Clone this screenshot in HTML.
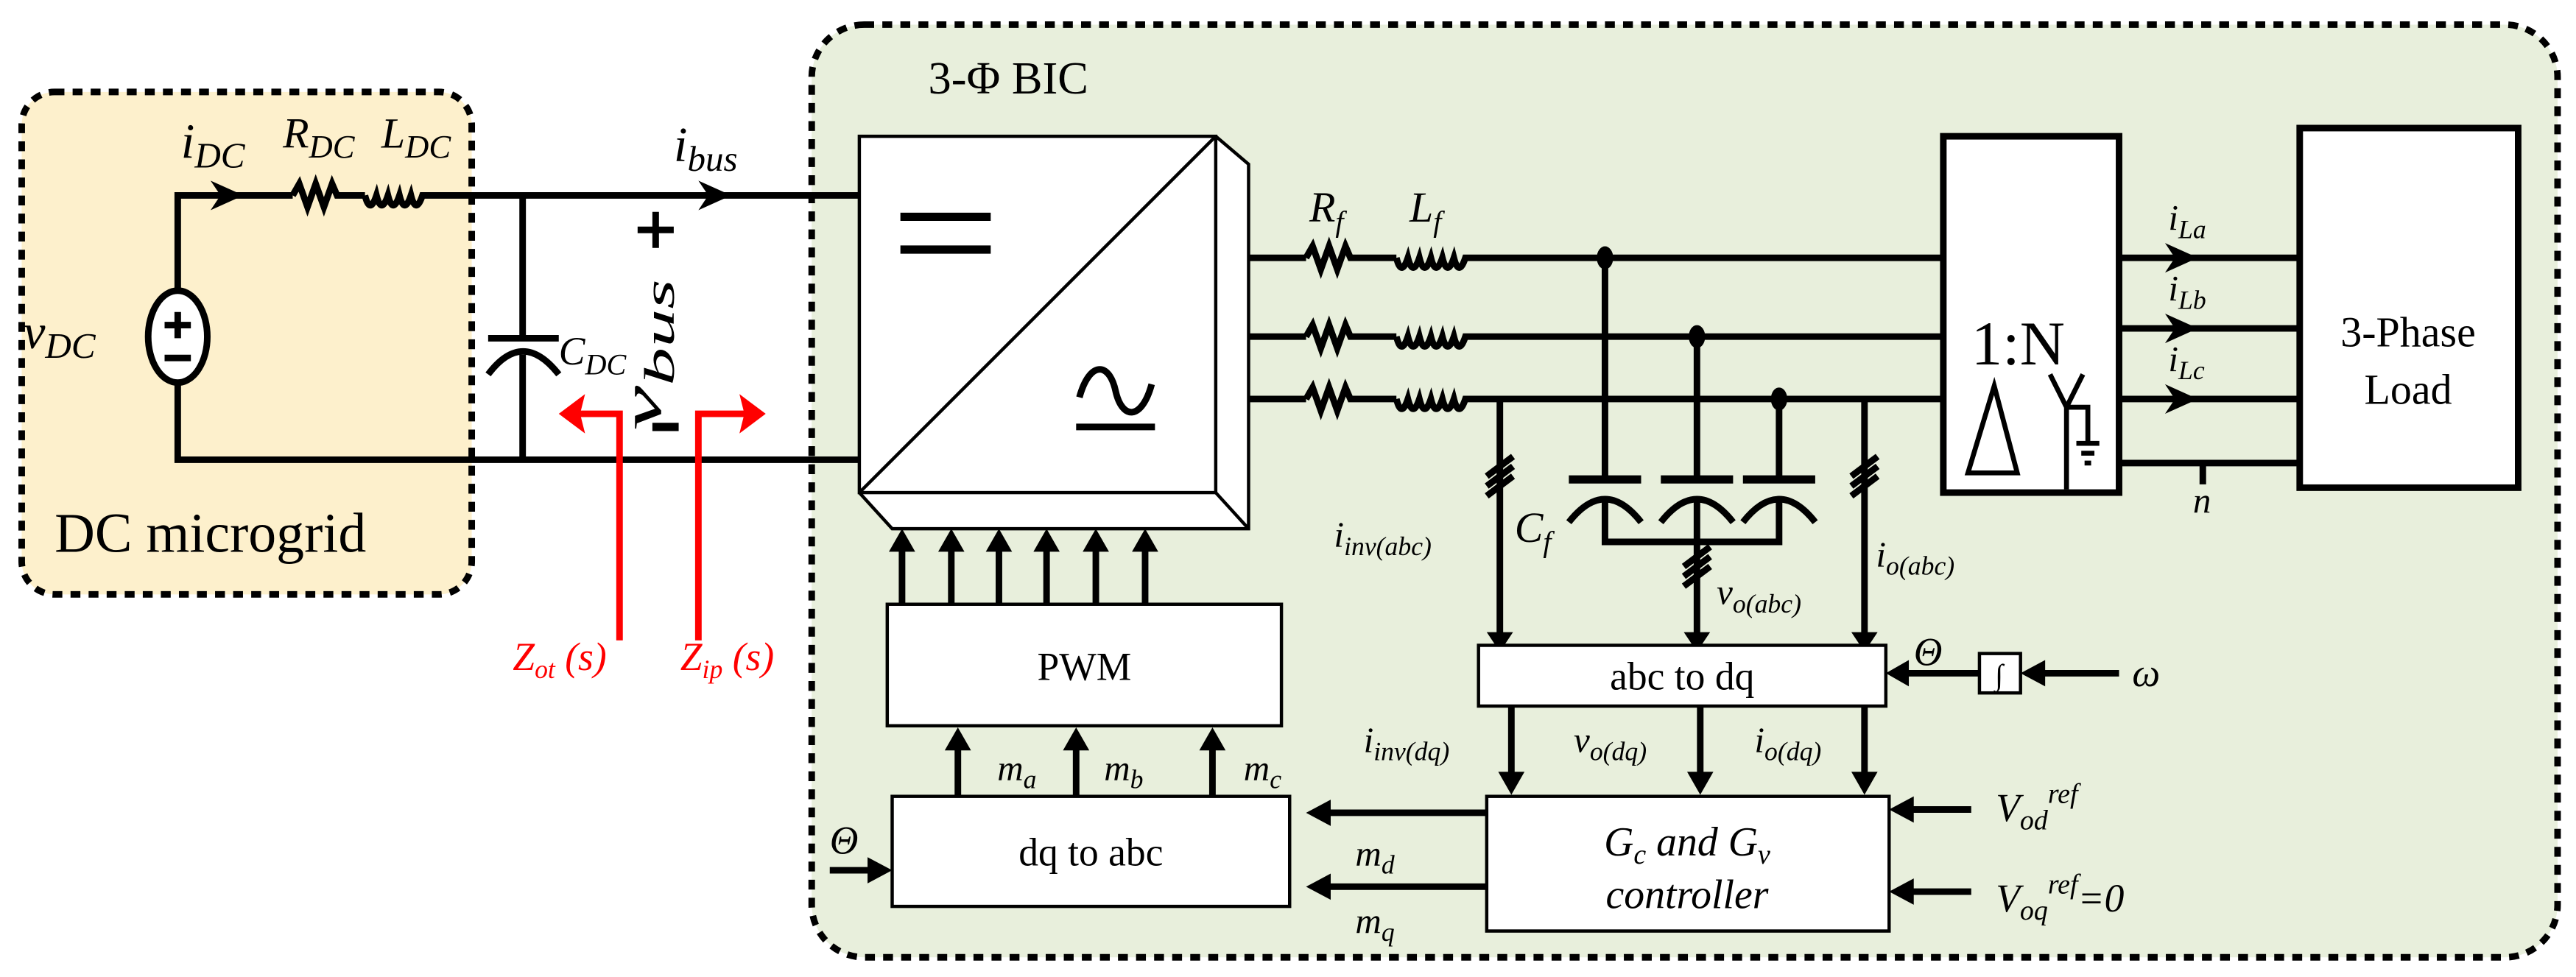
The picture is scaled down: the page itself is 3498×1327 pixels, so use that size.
<!DOCTYPE html>
<html><head><meta charset="utf-8"><style>
html,body{margin:0;padding:0;background:#fff}
svg{display:block}
svg text{font-family:"Liberation Serif","DejaVu Serif","Times New Roman",serif;fill:#000}
.i{font-style:italic}
</style></head><body>
<svg width="3498" height="1327" viewBox="0 0 1568 595" xmlns="http://www.w3.org/2000/svg">
<!-- group boxes -->
<rect x="13" y="56" width="274" height="306" rx="20" fill="#fdf0cc" stroke="#000" stroke-width="4" stroke-dasharray="6,5"/>
<rect x="494" y="15" width="1063" height="568" rx="32" fill="#e8efdc" stroke="#000" stroke-width="4" stroke-dasharray="6,5"/>
<text x="565" y="57" font-size="28">3-Φ BIC</text>
<text x="33" y="336" font-size="34">DC microgrid</text>

<g stroke="#000" stroke-width="4" fill="none">
<path d="M108,177 V119 H178"/>
<path d="M178,119 l4,-7 l5,14 l5,-14 l5,14 l5,-14 l3,7 H222"/>
<path d="M222,119 q3,12 7,0 q3,12 7,0 q3,12 7,0 q3,12 7,0 q3,12 7,0 V119 H523"/>
<path d="M108,233 V280 H523"/>
<path d="M318,119 V205 M297,206 H340 M318,216 V280"/>
<path d="M297,228 Q318,200 340,228" stroke-width="4"/>
<path d="M388,140 h22 M399,129 v22" stroke-width="4"/>
<path d="M397,260 h16" stroke-width="5"/>
</g>
<ellipse cx="108" cy="205" rx="18" ry="28" fill="#fff" stroke="#000" stroke-width="4"/>
<path d="M100,198 h16 M108,190 v16 M100,218 h16" stroke="#000" stroke-width="4"/>
<path d="M128,110 L148,119 L128,128 L134,119z" fill="#000"/>
<path d="M425,110 L445,119 L425,128 L431,119z" fill="#000"/>
<text x="110" y="96" font-size="30" class="i">i<tspan font-size="22" dy="6">DC</tspan></text>
<text x="172" y="90" font-size="26" class="i">R<tspan font-size="20" dy="6">DC</tspan></text>
<text x="232" y="90" font-size="26" class="i">L<tspan font-size="20" dy="6">DC</tspan></text>
<text x="410" y="98" font-size="30" class="i">i<tspan font-size="22" dy="6">bus</tspan></text>
<text x="14" y="212" font-size="30" class="i">v<tspan font-size="22" dy="6">DC</tspan></text>
<text x="340" y="222" font-size="24" class="i">C<tspan font-size="18" dy="6">DC</tspan></text>
<text transform="translate(402,262) rotate(-90)" font-size="34" class="i" textLength="92" lengthAdjust="spacingAndGlyphs">v<tspan font-size="26" dy="8">bus</tspan></text>
<g stroke="#f00" stroke-width="4" fill="none">
<path d="M377,390 V252 H352"/>
<path d="M425,390 V252 H455"/>
</g>
<path d="M356,240 L340,252 L356,264 L353,252z M450,240 L466,252 L450,264 L453,252z" fill="#f00"/>
<text x="312" y="408" font-size="24" class="i" style="fill:#f00">Z<tspan font-size="16" dy="5">ot</tspan><tspan dy="-5"> (s)</tspan></text>
<text x="414" y="408" font-size="24" class="i" style="fill:#f00">Z<tspan font-size="16" dy="5">ip</tspan><tspan dy="-5"> (s)</tspan></text>

<!-- converter -->
<path d="M740,83 L760,100 L760,322 L543,322 L523,300" fill="#fff" stroke="#000" stroke-width="2"/>
<path d="M740,300 L760,322" stroke="#000" stroke-width="2"/>
<rect x="523" y="83" width="217" height="217" fill="#fff" stroke="#000" stroke-width="2"/>
<path d="M523,300 L740,83" stroke="#000" stroke-width="2"/>
<path d="M548,132 h55 M548,152 h55" stroke="#000" stroke-width="5"/>
<path d="M655,260 h48 M657,242 c6,-22 18,-22 22,-4 c4,18 16,18 22,-4" stroke="#000" stroke-width="4" fill="none"/>

<g stroke="#000" stroke-width="4" fill="none">
<path d="M760,157 H795 M760,205 H795 M760,243 H795"/>
<path d="M795,157 l4,-7 l5,14 l5,-14 l5,14 l5,-14 l3,7 H850 M795,205 l4,-7 l5,14 l5,-14 l5,14 l5,-14 l3,7 H850 M795,243 l4,-7 l5,14 l5,-14 l5,14 l5,-14 l3,7 H850"/>
<path d="M850,157 q3,12 7,0 q3,12 7,0 q3,12 7,0 q3,12 7,0 q3,12 7,0 q3,12 7,0 H1183"/>
<path d="M850,205 q3,12 7,0 q3,12 7,0 q3,12 7,0 q3,12 7,0 q3,12 7,0 q3,12 7,0 H1183"/>
<path d="M850,243 q3,12 7,0 q3,12 7,0 q3,12 7,0 q3,12 7,0 q3,12 7,0 q3,12 7,0 H1183"/>
<path d="M977,157 V290 M1033,205 V290 M1083,243 V290"/>
<path d="M955,292 h44 M1011,292 h44 M1061,292 h44" stroke-width="5"/>
<path d="M955,318 Q977,290 999,318 M1011,318 Q1033,290 1055,318 M1061,318 Q1083,290 1105,318"/>
<path d="M977,303 V330 H1083 V303 M1033,303 V388"/>
<path d="M913,243 V388 M1135,243 V388"/>
<path d="M905,290 l16,-12 M905,296 l16,-12 M905,302 l16,-12"/>
<path d="M1127,290 l16,-12 M1127,296 l16,-12 M1127,302 l16,-12"/>
<path d="M1025,345 l16,-12 M1025,351 l16,-12 M1025,357 l16,-12"/>
<path d="M1290,157 H1400 M1290,200 H1400 M1290,243 H1400 M1290,282 H1400 M1341,282 V295"/>
</g>
<g fill="#000">
<ellipse cx="977" cy="157" rx="5" ry="7"/><ellipse cx="1033" cy="205" rx="5" ry="7"/><ellipse cx="1083" cy="243" rx="5" ry="7"/>
<path d="M1318,148 L1338,157 L1318,166 L1324,157z"/><path d="M1318,191 L1338,200 L1318,209 L1324,200z"/><path d="M1318,234 L1338,243 L1318,252 L1324,243z"/>
<path d="M905,385 L913,397 L921,385z"/><path d="M1025,385 L1033,397 L1041,385z"/><path d="M1127,385 L1135,397 L1143,385z"/>
</g>
<text x="797" y="135" font-size="26" class="i">R<tspan font-size="18" dy="6">f</tspan></text>
<text x="858" y="135" font-size="26" class="i">L<tspan font-size="18" dy="6">f</tspan></text>
<text x="922" y="330" font-size="26" class="i">C<tspan font-size="18" dy="6">f</tspan></text>
<text x="812" y="333" font-size="22" class="i">i<tspan font-size="16" dy="5">inv(abc)</tspan></text>
<text x="1142" y="345" font-size="22" class="i">i<tspan font-size="16" dy="5">o(abc)</tspan></text>
<text x="1045" y="368" font-size="22" class="i">v<tspan font-size="16" dy="5">o(abc)</tspan></text>
<text x="1320" y="140" font-size="22" class="i">i<tspan font-size="16" dy="5">La</tspan></text>
<text x="1320" y="183" font-size="22" class="i">i<tspan font-size="16" dy="5">Lb</tspan></text>
<text x="1320" y="226" font-size="22" class="i">i<tspan font-size="16" dy="5">Lc</tspan></text>
<text x="1335" y="312" font-size="22" class="i">n</text>

<rect x="1183" y="83" width="107" height="217" fill="#fff" stroke="#000" stroke-width="4"/>
<text x="1200" y="222" font-size="38">1:N</text>
<path d="M1198,288 L1214,235 L1228,288z M1248,228 L1258,248 L1268,228 M1258,248 V298 M1258,248 h13 V270 M1264,270 h14 M1267,276 h8 M1269,282 h4" stroke="#000" stroke-width="3" fill="none"/>
<rect x="1400" y="78" width="133" height="219" fill="#fff" stroke="#000" stroke-width="4"/>
<text x="1466" y="211" font-size="26" text-anchor="middle">3-Phase</text>
<text x="1466" y="246" font-size="26" text-anchor="middle">Load</text>

<rect x="540" y="368" width="240" height="74" fill="#fff" stroke="#000" stroke-width="2"/>
<text x="660" y="414" font-size="24" text-anchor="middle">PWM</text>
<g stroke="#000" stroke-width="4">
<path d="M549,368 V334 M579,368 V334 M608,368 V334 M637,368 V334 M667,368 V334 M697,368 V334"/>
<path d="M583,485 V455 M655,485 V455 M738,485 V455"/>
<path d="M920,430 V472 M1035,430 V472 M1135,430 V472"/>
<path d="M905,495 H808 M905,540 H808"/>
<path d="M505,530 H530"/>
<path d="M1200,493 H1163 M1200,543 H1163"/>
<path d="M1290,410 H1243 M1205,410 H1160"/>
</g>
<g fill="#000">
<path d="M541,336 L549,322 L557,336z M571,336 L579,322 L587,336z M600,336 L608,322 L616,336z M629,336 L637,322 L645,336z M659,336 L667,322 L675,336z M689,336 L697,322 L705,336z"/>
<path d="M575,457 L583,443 L591,457z M647,457 L655,443 L663,457z M730,457 L738,443 L746,457z"/>
<path d="M912,470 L920,484 L928,470z M1027,470 L1035,484 L1043,470z M1127,470 L1135,484 L1143,470z"/>
<path d="M810,487 L795,495 L810,503z M810,532 L795,540 L810,548z"/>
<path d="M528,522 L543,530 L528,538z"/>
<path d="M1165,485 L1150,493 L1165,501z M1165,535 L1150,543 L1165,551z"/>
<path d="M1245,402 L1230,410 L1245,418z M1162,402 L1148,410 L1162,418z"/>
</g>
<rect x="543" y="485" width="242" height="67" fill="#fff" stroke="#000" stroke-width="2"/>
<text x="664" y="527" font-size="24" text-anchor="middle">dq to abc</text>
<rect x="900" y="393" width="248" height="37" fill="#fff" stroke="#000" stroke-width="2"/>
<text x="1024" y="420" font-size="24" text-anchor="middle">abc to dq</text>
<rect x="1205" y="398" width="25" height="24" fill="#fff" stroke="#000" stroke-width="2"/>
<text x="1217" y="417" font-size="18" class="i" text-anchor="middle">∫</text>
<rect x="905" y="485" width="245" height="82" fill="#fff" stroke="#000" stroke-width="2"/>
<text x="1027" y="521" font-size="25" class="i" text-anchor="middle">G<tspan font-size="17" dy="5">c</tspan><tspan dy="-5"> and G</tspan><tspan font-size="17" dy="5">v</tspan></text>
<text x="1027" y="553" font-size="25" class="i" text-anchor="middle">controller</text>
<text x="607" y="475" font-size="22" class="i">m<tspan font-size="16" dy="5">a</tspan></text>
<text x="672" y="475" font-size="22" class="i">m<tspan font-size="16" dy="5">b</tspan></text>
<text x="757" y="475" font-size="22" class="i">m<tspan font-size="16" dy="5">c</tspan></text>
<text x="825" y="527" font-size="22" class="i">m<tspan font-size="16" dy="5">d</tspan></text>
<text x="825" y="568" font-size="22" class="i">m<tspan font-size="16" dy="5">q</tspan></text>
<text x="830" y="458" font-size="22" class="i">i<tspan font-size="16" dy="5">inv(dq)</tspan></text>
<text x="958" y="458" font-size="22" class="i">v<tspan font-size="16" dy="5">o(dq)</tspan></text>
<text x="1068" y="458" font-size="22" class="i">i<tspan font-size="16" dy="5">o(dq)</tspan></text>
<text x="1165" y="405" font-size="24" class="i">Θ</text>
<text x="1298" y="418" font-size="24" class="i">ω</text>
<text x="505" y="520" font-size="24" class="i">Θ</text>
<text x="1215" y="500" font-size="24" class="i">V<tspan font-size="17" dy="5">od</tspan><tspan font-size="17" dy="-16">ref</tspan></text>
<text x="1215" y="555" font-size="24" class="i">V<tspan font-size="17" dy="5">oq</tspan><tspan font-size="17" dy="-16">ref</tspan><tspan dy="11">=0</tspan></text>
</svg>
</body></html>
